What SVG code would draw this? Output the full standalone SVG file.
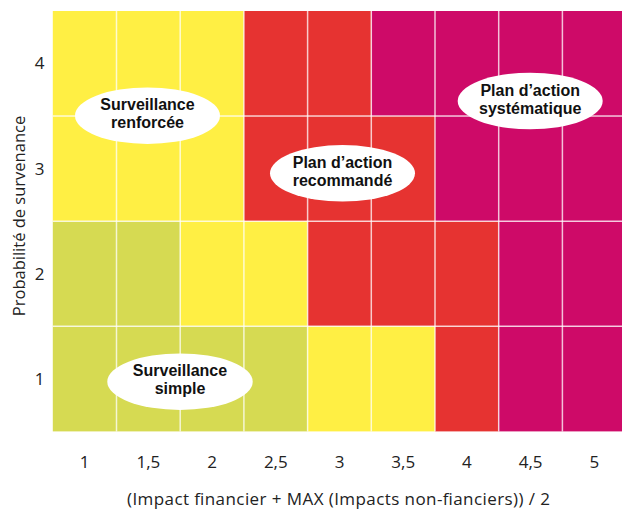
<svg xmlns="http://www.w3.org/2000/svg" width="622" height="509" viewBox="0 0 622 509">
<style>
.y{fill:#FFEF44}.r{fill:#E63331}.m{fill:#CE0A68}.g{fill:#D6DA52}
.grid line{stroke:#ffffff;stroke-opacity:0.75;stroke-width:1.5}
.tick{font-family:"Open Sans",sans-serif;font-size:17px;fill:#222;text-anchor:middle}
.title{font-family:"Open Sans",sans-serif;font-size:17px;fill:#222;text-anchor:middle}
.bub ellipse{fill:#ffffff}
.bub text{font-family:"Liberation Sans",Arial,sans-serif;font-weight:bold;font-size:16px;fill:#111;text-anchor:middle}
</style>
<rect width="622" height="509" fill="#ffffff"/>
<g id="cells">
<rect class="y" x="52.8" y="11" width="191.1" height="105.1"/>
<rect class="r" x="243.9" y="11" width="127.4" height="105.1"/>
<rect class="m" x="371.3" y="11" width="255.1" height="105.1"/>
<rect class="y" x="52.8" y="116.1" width="191.1" height="105.1"/>
<rect class="r" x="243.9" y="116.1" width="191.1" height="105.1"/>
<rect class="m" x="435" y="116.1" width="191.4" height="105.1"/>
<rect class="g" x="52.8" y="221.2" width="127.4" height="105.1"/>
<rect class="y" x="180.2" y="221.2" width="127.4" height="105.1"/>
<rect class="r" x="307.6" y="221.2" width="191.1" height="105.1"/>
<rect class="m" x="498.7" y="221.2" width="127.7" height="105.1"/>
<rect class="g" x="52.8" y="326.3" width="254.8" height="105.1"/>
<rect class="y" x="307.6" y="326.3" width="127.4" height="105.1"/>
<rect class="r" x="435" y="326.3" width="63.7" height="105.1"/>
<rect class="m" x="498.7" y="326.3" width="127.7" height="105.1"/>
</g>
<g id="grid" class="grid">
<line x1="116.5" y1="11" x2="116.5" y2="431.4"/>
<line x1="180.2" y1="11" x2="180.2" y2="431.4"/>
<line x1="243.9" y1="11" x2="243.9" y2="431.4"/>
<line x1="307.6" y1="11" x2="307.6" y2="431.4"/>
<line x1="371.3" y1="11" x2="371.3" y2="431.4"/>
<line x1="435" y1="11" x2="435" y2="431.4"/>
<line x1="498.7" y1="11" x2="498.7" y2="431.4"/>
<line x1="562.4" y1="11" x2="562.4" y2="431.4"/>
<line x1="52.8" y1="116.1" x2="626.4" y2="116.1"/>
<line x1="52.8" y1="221.2" x2="626.4" y2="221.2"/>
<line x1="52.8" y1="326.3" x2="626.4" y2="326.3"/>
</g>
<g id="yticks">
<text class="tick" x="39.5" y="69">4</text>
<text class="tick" x="39.5" y="175">3</text>
<text class="tick" x="39.5" y="280">2</text>
<text class="tick" x="39.5" y="385">1</text>
</g>
<g id="xticks">
<text class="tick" x="84.7" y="467.5">1</text>
<text class="tick" x="148.4" y="467.5">1,5</text>
<text class="tick" x="212.1" y="467.5">2</text>
<text class="tick" x="275.8" y="467.5">2,5</text>
<text class="tick" x="339.5" y="467.5">3</text>
<text class="tick" x="403.2" y="467.5">3,5</text>
<text class="tick" x="466.9" y="467.5">4</text>
<text class="tick" x="530.6" y="467.5">4,5</text>
<text class="tick" x="594.3" y="467.5">5</text>
</g>
<text id="xtitle" class="title" x="338.5" y="505" textLength="423" lengthAdjust="spacing">(Impact financier + MAX (Impacts non-fianciers)) / 2</text>
<text id="ytitle" class="title" style="font-size:16.5px" transform="translate(24.5,216) rotate(-90)">Probabilité de survenance</text>
<g id="n1" class="bub">
<ellipse cx="147.5" cy="115.7" rx="72.5" ry="28.3"/>
<text x="147.5" y="110">Surveillance<tspan x="147.5" dy="18">renforcée</tspan></text>
</g>
<g id="n2" class="bub">
<ellipse cx="342.5" cy="173.3" rx="72.5" ry="28.3"/>
<text x="342.5" y="167.5">Plan d’action<tspan x="342.5" dy="18">recommandé</tspan></text>
</g>
<g id="n3" class="bub">
<ellipse cx="530.2" cy="101" rx="72.5" ry="28.3"/>
<text x="530.2" y="95.5">Plan d’action<tspan x="530.2" dy="18">systématique</tspan></text>
</g>
<g id="n4" class="bub">
<ellipse cx="180" cy="381.7" rx="72.7" ry="28.3"/>
<text x="180" y="376">Surveillance<tspan x="180" dy="18">simple</tspan></text>
</g>
</svg>
